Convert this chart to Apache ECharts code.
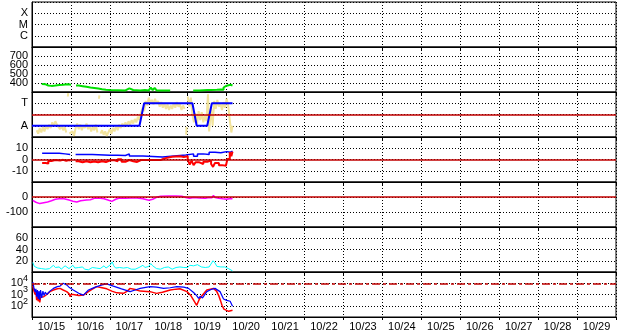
<!DOCTYPE html>
<html>
<head>
<meta charset="utf-8">
<script src="https://cdn.jsdelivr.net/npm/echarts@6/dist/echarts.min.js"></script>
<style>
  html, body { margin: 0; padding: 0; background: #fff; }
  #chart { width: 628px; height: 334px; }
</style>
</head>
<body>
<div id="chart"></div>
<script>
// x values are days since 10/15 00:00
var dayLabels = ['10/15','10/16','10/17','10/18','10/19','10/20','10/21','10/22','10/23','10/24','10/25','10/26','10/27','10/28','10/29'];

var greenData = [[0.25,389],[0.3,385],[0.35,372],[0.42,368],[0.5,372],[0.6,378],[0.7,380],[0.8,385],[0.9,382],[0.98,378],[1.0,null],
  [1.13,372],[1.2,365],[1.3,358],[1.4,350],[1.5,345],[1.6,338],[1.7,330],[1.8,325],[1.9,322],[2.0,320],[2.2,318],[2.4,320],[2.45,340],[2.5,322],
  [2.6,318],[2.78,322],[2.9,318],[3.0,320],[3.05,350],[3.1,320],[3.15,345],[3.2,318],[3.3,330],[3.35,318],[3.5,316],[3.55,null],
  [4.14,318],[4.3,322],[4.5,322],[4.6,325],[4.75,328],[4.85,326],[4.92,350],[4.96,370],[5.0,392],[5.05,380],[5.1,385],[5.15,372]];

var modeData = [[0,1],[2.76,1],[2.88,3],[4.12,3],[4.23,1],[4.5,1],[4.62,3],[5.15,3]];

var yellowData = [[0.12,0.6],[0.16,0.3],[0.2,0.8],[0.24,0.4],[0.28,0.9],[0.32,0.5],[0.36,1.0],[0.4,0.7],[0.44,1.1],[0.48,0.8],[0.52,1.3],
  [0.56,1.0],[0.6,1.4],[0.64,1.1],[0.68,1.2],[0.72,0.7],[0.76,1.0],[0.8,0.6],[0.84,0.9],[0.88,0.4],[0.9,null],[0.92,3.6],[0.93,3.9],[0.94,null],
  [0.96,0.3],[1.0,0.2],[1.04,0.5],[1.08,0.1],[1.12,0.8],[1.16,1.2],[1.2,0.7],[1.24,1.1],[1.28,0.6],[1.32,1.0],[1.36,0.8],[1.4,1.2],[1.44,0.7],
  [1.48,1.0],[1.52,0.5],[1.56,0.9],[1.6,0.6],[1.64,1.1],[1.68,0.4],[1.7,null],[1.72,3.4],[1.73,3.7],[1.74,null],[1.76,0.3],[1.8,0.6],[1.84,0.2],
  [1.88,0.5],[1.92,0.1],[1.96,0.4],[2.0,0.7],[2.04,0.3],[2.08,0.8],[2.12,0.5],[2.16,1.0],[2.2,0.6],[2.24,1.1],[2.28,0.8],[2.32,1.2],[2.36,0.9],
  [2.4,1.3],[2.44,1.0],[2.48,1.4],[2.52,1.1],[2.56,1.5],[2.6,1.2],[2.64,1.6],[2.68,1.3],[2.72,1.8],[2.76,1.5],[2.8,2.2],[2.84,2.6],[2.88,2.3],
  [2.92,3.2],[2.96,2.8],[3.0,3.5],[3.04,3.0],[3.08,3.3],[3.12,2.9],[3.16,3.4],[3.2,3.0],[3.24,3.2],[3.28,2.7],[3.32,3.1],[3.36,2.6],
  [3.4,3.0],[3.44,2.5],[3.48,2.9],[3.52,2.4],[3.56,2.8],[3.6,2.5],[3.64,3.0],[3.68,2.6],[3.72,3.1],[3.76,2.7],[3.8,2.9],[3.84,2.4],
  [3.88,2.8],[3.92,2.5],[3.94,null],[3.96,0.2],[3.97,0.9],[3.98,null],[4.0,3.6],[4.04,2.7],[4.08,3.5],[4.12,2.0],[4.16,1.3],[4.2,2.1],
  [4.24,1.2],[4.28,2.3],[4.32,1.5],[4.36,2.2],[4.4,1.3],[4.44,1.9],[4.48,1.4],[4.52,3.8],[4.55,0.5],[4.6,2.6],[4.64,1.0],[4.68,3.2],
  [4.72,2.5],[4.76,3.3],[4.8,2.7],[4.84,3.0],[4.88,2.4],[4.92,3.1],[4.96,2.6],[5.0,3.4],[5.04,2.8],[5.08,1.5],[5.12,0.4],[5.15,1.0]];

var diffBlue = [[0.26,5.5],[0.5,5.5],[0.7,5.0],[0.85,4.5],[0.98,4.0],[0.99,null],[1.12,4.4],[1.55,4.4],[1.56,3.8],[2.0,3.8],[2.2,3.5],
  [2.4,5.0],[2.5,3.2],[2.85,3.2],[2.9,2.3],[3.35,2.3],[3.4,4.0],[3.95,4.0],[4.0,5.0],[4.15,3.0],[4.25,5.0],[4.4,4.5],[4.55,6.5],
  [4.7,6.0],[4.85,7.0],[5.0,6.5],[5.1,7.5],[5.15,7.5]];

var diffRed = [[0.26,-3.2],[0.35,-3.5],[0.42,-1.3],[0.5,-2.0],[0.55,-0.5],[0.6,0.5],[0.65,-1.0],[0.72,-0.3],[0.8,-1.2],[0.88,-0.5],
  [0.95,-1.0],[0.99,null],[1.12,-1.5],[1.2,-2.5],[1.3,-1.5],[1.4,-2.5],[1.5,-1.8],[1.6,-2.5],[1.7,-1.5],[1.8,-2.2],[1.9,-1.0],
  [2.0,-0.5],[2.1,-1.5],[2.2,0.3],[2.3,-2.0],[2.4,-0.5],[2.5,-1.5],[2.6,-2.2],[2.7,-0.5],[2.8,-0.5],[3.0,-0.5],[3.2,-0.5],[3.3,1.0],
  [3.4,2.5],[3.6,2.8],[3.8,2.3],[3.9,2.8],[4.0,0],[4.05,-4.5],[4.1,-1.0],[4.15,-5.0],[4.2,-2.5],[4.3,-4.0],[4.4,-2.0],[4.5,-3.5],
  [4.55,-1.0],[4.6,-4.0],[4.65,-6.5],[4.7,-3.0],[4.8,-5.0],[4.88,-6.5],[4.93,-5.5],[4.98,-7.0],[5.02,0.5],[5.08,6.5],[5.12,3.0],[5.15,7.0]];

var magentaData = [[0.02,-22],[0.1,-35],[0.2,-44],[0.3,-38],[0.4,-33],[0.5,-25],[0.6,-15],[0.7,-12],[0.8,-10],[0.85,-17],[0.95,-20],
  [1.05,-28],[1.15,-33],[1.25,-25],[1.4,-20],[1.5,-18],[1.6,-9],[1.75,-9],[1.85,-12],[1.95,-20],[2.05,-29],[2.15,-15],[2.25,-7],
  [2.4,-8],[2.55,-7],[2.7,-6],[2.85,-12],[3.0,-22],[3.1,-15],[3.2,-2],[3.3,5],[3.5,7],[3.7,7],[3.85,5],[3.95,-3],[4.05,-9],[4.15,-3],
  [4.3,-6],[4.45,-9],[4.55,-3],[4.62,-5],[4.66,11],[4.7,-3],[4.8,-8],[4.9,-12],[5.0,-15],[5.1,-10],[5.15,-12]];

var cyanData = [[0.02,17],[0.06,10],[0.1,12],[0.15,7],[0.2,9],[0.25,6],[0.3,8],[0.35,5],[0.4,7],[0.45,6],[0.5,9],[0.55,12],[0.6,8],
  [0.65,6],[0.7,9],[0.75,5],[0.8,7],[0.85,11],[0.9,8],[0.95,6],[1.0,9],[1.05,12],[1.1,7],[1.15,5],[1.2,8],[1.25,6],[1.3,9],[1.35,5],
  [1.4,7],[1.45,4],[1.5,6],[1.55,8],[1.6,5],[1.65,7],[1.7,4],[1.75,6],[1.8,9],[1.85,11],[1.9,7],[1.95,9],[2.0,12],[2.06,18],[2.1,11],
  [2.15,7],[2.2,5],[2.25,8],[2.3,6],[2.35,7],[2.4,5],[2.45,8],[2.5,6],[2.55,5],[2.6,7],[2.65,5],[2.7,6],[2.75,8],[2.8,9],[2.85,12],
  [2.9,8],[2.95,7],[3.0,10],[3.05,15],[3.1,11],[3.15,8],[3.2,6],[3.25,7],[3.3,5],[3.35,6],[3.4,8],[3.45,6],[3.5,9],[3.55,7],[3.6,5],
  [3.65,6],[3.7,8],[3.75,6],[3.8,9],[3.85,7],[3.9,8],[3.95,10],[4.0,8],[4.05,12],[4.1,9],[4.15,11],[4.2,8],[4.25,13],[4.3,10],
  [4.35,9],[4.4,12],[4.45,8],[4.5,11],[4.55,9],[4.6,12],[4.65,20],[4.7,16],[4.75,10],[4.8,8],[4.85,9],[4.9,7],[4.95,9],[5.0,8],
  [5.05,6],[5.1,4],[5.15,2]];

var logBlue = [[0.02,12600],[0.05,4000],[0.08,1600],[0.1,3200],[0.12,630],[0.14,2500],[0.16,400],[0.18,2000],[0.2,320],[0.22,2500],
  [0.25,500],[0.28,2000],[0.31,800],[0.34,1600],[0.38,1000],[0.46,2000],[0.55,3500],[0.65,5000],[0.72,5600],[0.8,10000],[0.89,7100],
  [0.95,4500],[1.06,2500],[1.2,1300],[1.32,890],[1.45,2500],[1.55,3500],[1.66,5000],[1.8,7100],[1.92,8900],[2.09,5600],[2.3,3200],
  [2.52,1800],[2.65,2500],[2.78,3500],[3.03,5000],[3.2,4500],[3.38,3500],[3.55,4000],[3.72,5000],[3.9,4500],[4.02,3500],[4.15,1500],
  [4.23,800],[4.28,450],[4.32,700],[4.38,500],[4.49,1800],[4.6,2800],[4.7,3500],[4.83,1800],[4.92,400],[5.0,300],[5.09,250],[5.15,90]];

var logRed = [[0.02,6300],[0.05,2000],[0.08,1000],[0.1,1600],[0.12,320],[0.14,800],[0.16,250],[0.18,500],[0.2,200],[0.22,600],
  [0.26,800],[0.3,630],[0.38,1000],[0.46,1800],[0.55,2500],[0.65,3200],[0.72,3500],[0.8,2500],[0.89,1800],[0.95,1200],[0.98,630],
  [1.0,1000],[1.06,1000],[1.2,800],[1.32,890],[1.45,1800],[1.55,3000],[1.66,5000],[1.8,4000],[1.92,3200],[2.05,2000],[2.18,1400],
  [2.35,1260],[2.45,2000],[2.52,3500],[2.65,2800],[2.78,2000],[3.03,1800],[3.2,1260],[3.35,1600],[3.55,2500],[3.7,3000],[3.8,3200],
  [3.98,1800],[4.08,800],[4.15,320],[4.23,110],[4.3,400],[4.38,900],[4.49,2500],[4.58,3000],[4.66,3500],[4.74,2000],[4.79,890],
  [4.84,300],[4.88,110],[4.93,50],[4.98,60],[5.05,32],[5.1,40],[5.15,40]];

var chart = echarts.init(document.getElementById('chart'));

var font = 'Liberation Sans, Arial, sans-serif';
var dotted = { color: '#000', type: [1, 2], width: 1 };
var grids = [], xAxes = [], yAxes = [];
for (var i = 0; i < 7; i++) {
  grids.push({ left: 32, right: 12, top: 2 + i * 45, height: 45, show: true, borderColor: '#000', borderWidth: 1,
    backgroundColor: '#fff', containLabel: false, outerBoundsMode: 'none' });
  xAxes.push({ gridIndex: i, type: 'value', min: 0, max: 15, interval: 1,
    axisLine: { show: true, onZero: false, lineStyle: { color: '#000' } },
    axisTick: { show: true, length: 3, lineStyle: { color: '#000' } },
    axisLabel: { show: false },
    splitLine: { show: true, lineStyle: dotted } });
}
// date labels centred in each day
xAxes.push({ gridIndex: 6, type: 'category', data: dayLabels, boundaryGap: true, position: 'bottom',
  axisLine: { show: false }, axisTick: { show: false }, splitLine: { show: false },
  axisLabel: { color: '#000', fontSize: 11, fontFamily: font, margin: 4, interval: 0 } });

function yAx(i, min, max, interval, fmt, extra) {
  var a = { gridIndex: i, type: 'value', min: min, max: max, interval: interval,
    axisLine: { show: true, onZero: false, lineStyle: { color: '#000' } },
    axisTick: { show: false },
    splitLine: { show: true, lineStyle: dotted },
    axisLabel: { color: '#000', fontSize: 11, fontFamily: font, margin: 4, formatter: fmt, showMinLabel: true, showMaxLabel: true } };
  for (var k in extra) a[k] = extra[k];
  return a;
}
var letters = { 1: 'C', 2: 'M', 3: 'X' };
yAxes.push(yAx(0, 0, 4, 1, function (v) { return letters[v] || ''; }));
yAxes.push(yAx(1, 300, 800, 100, function (v) { return (v > 300 && v < 800) ? String(v) : ''; }));
yAxes.push(yAx(2, 0, 4, 1, function (v) { return v === 3 ? 'T' : (v === 1 ? 'A' : ''); }));
yAxes.push(yAx(3, -20, 20, 10, function (v) { return Math.abs(v) < 20 ? String(v) : ''; }));
yAxes.push(yAx(4, -200, 100, 100, function (v) { return (v === 0 || v === -100) ? String(v) : ''; }));
yAxes.push(yAx(5, 0, 80, 20, function (v) { return (v > 0 && v < 80) ? String(v) : ''; }));
var logY = yAx(6, 10, 100000, null, function (v) {
  var e = Math.round(Math.log(v) / Math.LN10);
  return (e >= 2 && e <= 4) ? '10{s|' + e + '}' : '';
});
delete logY.interval;
logY.type = 'log';
logY.logBase = 10;
logY.axisLabel.rich = { s: { fontSize: 9, fontFamily: font, color: '#000', padding: [0, 0, 9, 0] } };
yAxes.push(logY);

function hline(val, color, type, width) {
  return { silent: true, symbol: 'none', animation: false, label: { show: false },
    lineStyle: { color: color, type: type, width: width },
    data: [{ yAxis: val }] };
}
function line(i, data, color, width, extra) {
  var s = { type: 'line', xAxisIndex: i, yAxisIndex: i, data: data, showSymbol: false, symbol: 'none',
    connectNulls: false, animation: false, silent: true, z: 3,
    lineStyle: { color: color, width: width } };
  for (var k in extra) s[k] = extra[k];
  return s;
}
var darkRed = '#c00000';
var series = [
  line(1, greenData, '#00e000', 2, { step: 'end' }),
  line(2, yellowData, '#f2e39c', 2, { z: 2 }),
  line(2, [], darkRed, 1, { markLine: hline(2, darkRed, 'solid', 1.5), z: 2 }),
  line(2, modeData, '#0000ff', 2, { z: 4 }),
  line(3, [], darkRed, 1, { markLine: hline(0, darkRed, 'solid', 1.5), z: 2 }),
  line(3, diffBlue, '#0000ff', 1.5, { step: 'end' }),
  line(3, diffRed, '#ff0000', 2, { step: 'end', z: 4 }),
  line(4, [], darkRed, 1, { markLine: hline(0, darkRed, 'solid', 1.5), z: 2 }),
  line(4, magentaData, '#ff00ff', 1.5),
  line(5, cyanData, '#00ffff', 1),
  line(6, [], darkRed, 1, { markLine: hline(10000, darkRed, [8, 3, 3, 3], 1.5), z: 2 }),
  line(6, logRed, '#ff0000', 1.5),
  line(6, logBlue, '#0000ff', 1.2, { z: 4 })
];

chart.setOption({
  animation: false,
  backgroundColor: '#fff',
  grid: grids,
  xAxis: xAxes,
  yAxis: yAxes,
  series: series
});
</script>
</body>
</html>
